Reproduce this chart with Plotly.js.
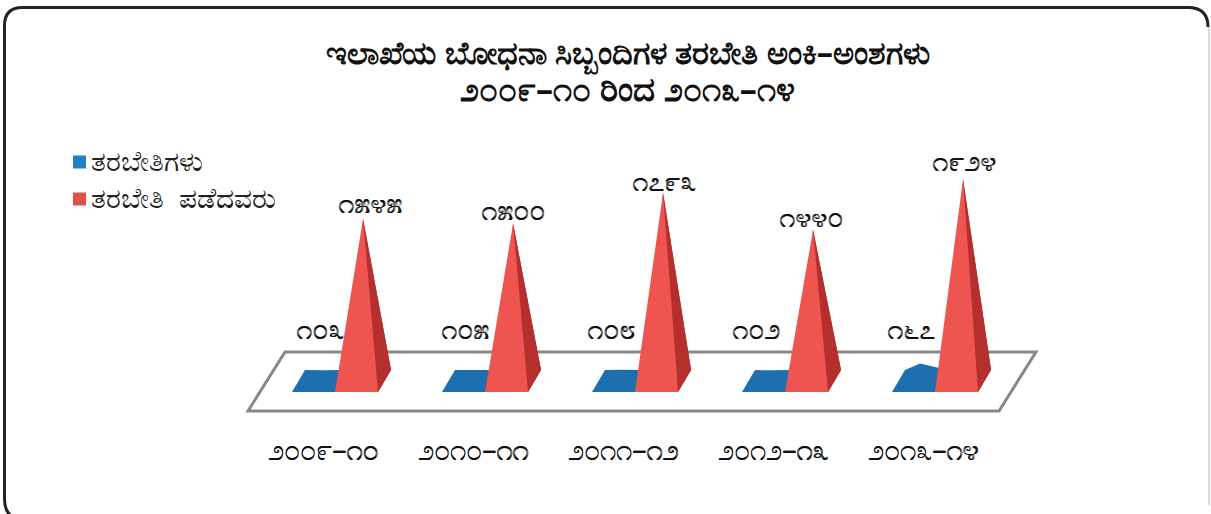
<!DOCTYPE html>
<html><head><meta charset="utf-8">
<script src="https://cdn.plot.ly/plotly-3.0.1.min.js"></script>
<style>html,body{margin:0;padding:0;background:#fff}#c{width:1211px;height:514px}</style>
</head><body><div id="c"></div>
<script>
const categories = ['೨೦೦೯–೧೦','೨೦೧೦–೧೧','೨೦೧೧–೧೨','೨೦೧೨–೧೩','೨೦೧೩–೧೪'];
const seriesNames = ['ತರಬೇತಿಗಳು','ತರಬೇತಿ\u00A0 ಪಡೆದವರು'];
const trainings = [103,105,108,102,167];
const trainees = [1545,1500,1793,1440,1924];
const trainingLabels = ['೧೦೩','೧೦೫','೧೦೮','೧೦೨','೧೬೭'];
const traineeLabels = ['೧೫೪೫','೧೫೦೦','೧೭೯೩','೧೪೪೦','೧೯೨೪'];
const titleLine1 = 'ಇಲಾಖೆಯ ಬೋಧನಾ ಸಿಬ್ಬಂದಿಗಳ ತರಬೇತಿ ಅಂಕಿ–ಅಂಶಗಳು';
const titleLine2 = '೨೦೦೯–೧೦ ರಿಂದ ೨೦೧೩–೧೪';

// label nudges in pixels (placement only)
const trainingLabelShiftX = [0,-5,-9,-14,-9];
const traineeLabelShiftX = [7,0,1,-2,1];
const traineeLabelShiftY = [17,15,13,14,19];

const W=1211,H=514, L=23, R=23, T=100, B=84;
const pxX=150, pxY=0.105;             // px per category, px per value
const x0px=323, y0px=381;             // pixel of category 0 / value 0
const xRange=[(L-x0px)/pxX,(W-R-x0px)/pxX];
const yRange=[(y0px-(H-B))/pxY,(y0px-T)/pxY];
const halfW=21.5/pxX, depthX=6.5/pxX, depthY=11/pxY;
const font='"Noto Sans","DejaVu Sans",sans-serif';
const ink='#111';
const pxx=x=>(x-L)/(W-L-R), pxy=y=>1-(y-T)/(H-T-B);

function faces(vals,off){
  const out={foot:{x:[],y:[]},front:{x:[],y:[]},side:{x:[],y:[]}};
  vals.forEach((v,i)=>{
    const c=i+off;
    const fl=[c-halfW-depthX,-depthY], fr=[c+halfW-depthX,-depthY],
          bl=[c-halfW+depthX,depthY],  br=[c+halfW+depthX,depthY], ap=[c,v];
    const add=(t,pts)=>{pts.forEach(p=>{t.x.push(p[0]);t.y.push(p[1]);});t.x.push(null);t.y.push(null);};
    add(out.foot,[fl,bl,ap,br,fr,fl]);
    add(out.front,[fl,ap,fr,fl]);
    add(out.side,[fr,ap,br,fr]);
  });
  return out;
}
const poly=(t,color,name)=>({type:'scatter',mode:'lines',x:t.x,y:t.y,fill:'toself',fillcolor:color,name:name,
  line:{width:0,color:color},hoverinfo:'skip',showlegend:false});
const blue=faces(trainings,-0.02), red=faces(trainees,0.267);
const cats=categories.map((_,i)=>i);
const data=[
  poly(blue.foot,'#1d6fb0',seriesNames[0]),
  poly(red.foot,'#b5302d',seriesNames[1]),poly(red.side,'#b5302d',seriesNames[1]),poly(red.front,'#ee5550',seriesNames[1])
];
const thick='0.5px 0 0 #111';
const labelFont={family:font,size:28,color:ink,shadow:thick};
const ann=[];
trainingLabels.forEach((t,i)=>ann.push({x:i-0.02,y:(y0px-328)/pxY,xshift:trainingLabelShiftX[i],text:t,showarrow:false,
  font:labelFont,xanchor:'center',yanchor:'middle'}));
traineeLabels.forEach((t,i)=>ann.push({x:i+0.267,y:trainees[i],xshift:traineeLabelShiftX[i],yshift:traineeLabelShiftY[i],text:t,showarrow:false,
  font:labelFont,xanchor:'center',yanchor:'middle'}));
ann.push({xref:'paper',yref:'paper',x:pxx(628),y:pxy(88),text:titleLine2,showarrow:false,xanchor:'center',yanchor:'middle',
  font:{family:font,size:34,color:ink,weight:700}});
seriesNames.forEach((n,i)=>ann.push({xref:'paper',yref:'paper',x:pxx(89),y:pxy(160+37*i),text:n,showarrow:false,xanchor:'left',yanchor:'middle',
  font:{family:font,size:28,color:'#222'}}));
const legendColors=['#2480c4','#e0504e'];
const legendSquares=legendColors.map((c,i)=>({type:'rect',xref:'paper',yref:'paper',layer:'above',line:{width:0},fillcolor:c,
  x0:pxx(73),x1:pxx(86),y0:pxy(155.5+37*i),y1:pxy(168.5+37*i)}));
const P=(x,y)=>`${pxx(x)},${pxy(y)}`;
const layout={
  width:W,height:H,paper_bgcolor:'#fff',plot_bgcolor:'rgba(0,0,0,0)',showlegend:false,
  margin:{l:L,r:R,t:T,b:B,autoexpand:false},
  title:{text:titleLine1,x:628/W,xanchor:'center',y:1-53/H,yanchor:'middle',font:{family:font,size:32.2,color:ink,weight:700}},
  xaxis:{range:xRange,tickmode:'array',tickvals:cats,ticktext:categories,showgrid:false,zeroline:false,showline:false,
    ticks:'',tickfont:{family:font,size:28.5,color:ink,shadow:thick},fixedrange:true},
  yaxis:{range:yRange,visible:false,fixedrange:true},
  annotations:ann,
  shapes:[
    {type:'path',xref:'paper',yref:'paper',layer:'below',line:{color:'#222',width:3},
     path:`M${P(22,519)}Q${P(4.5,519)} ${P(4.5,498)}L${P(4.5,25.5)}Q${P(4.5,7.5)} ${P(22.5,7.5)}L${P(1188,7.5)}Q${P(1208,7.5)} ${P(1208,27)}`},
    {type:'path',xref:'paper',yref:'paper',layer:'below',line:{color:'#b5b5b5',width:1},
     path:`M${P(1209,27)}L${P(1209,505)}`},
    {type:'path',xref:'paper',yref:'paper',layer:'below',line:{color:'#8b8785',width:3},fillcolor:'#fff',
     path:`M${P(248,411)}L${P(999,411)}L${P(1036,352)}L${P(285,352)}Z`},
    ...legendSquares
  ]
};
Plotly.newPlot('c',data,layout,{displayModeBar:false,staticPlot:true});
</script></body></html>
